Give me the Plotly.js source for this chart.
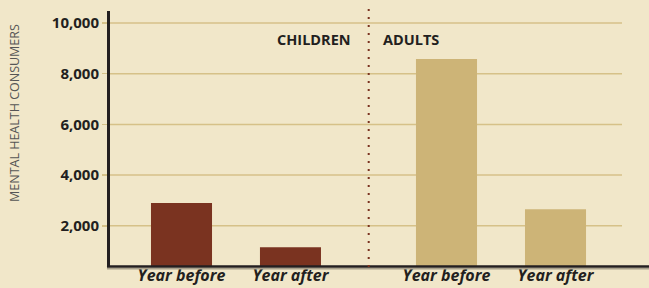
<!DOCTYPE html>
<html>
<head>
<meta charset="utf-8">
<script src="https://cdn.plot.ly/plotly-3.0.1.min.js"></script>
<style>html,body{margin:0;padding:0;background:#f1e7c9;}</style>
</head>
<body>
<div id="chart" style="width:649px;height:288px;"></div>
<script>
var periods = ["Year before", "Year after"];
var childrenValues = [2900, 1150];
var adultsValues = [8580, 2650];
var groupLabels = ["CHILDREN", "ADULTS"];
var yTickVals = [2000, 4000, 6000, 8000, 10000];
var yTickText = ["2,000", "4,000", "6,000", "8,000", "10,000"];
var yTitle = "MENTAL HEALTH CONSUMERS";

var bg = "#f1e7c9";
var ink = "#231f20";
var grid = "#d6c188";

var traces = [
  {type: "bar", x: periods, y: childrenValues, xaxis: "x", yaxis: "y",
   marker: {color: "#7a3320"}, hoverinfo: "none", showlegend: false},
  {type: "bar", x: periods, y: adultsValues, xaxis: "x2", yaxis: "y",
   marker: {color: "#cdb477"}, hoverinfo: "none", showlegend: false}
];

var xCommon = {
  type: "category", showgrid: false, zeroline: false, showline: false, ticks: "",
  ticklabelstandoff: -3,
  tickfont: {family: "Open Sans, sans-serif", size: 16, color: ink, weight: "bold", style: "italic"},
  fixedrange: true
};

var shapes = yTickVals.map(function (v) {
  return {type: "line", xref: "paper", yref: "y", x0: 0, x1: 1, y0: v, y1: v,
          layer: "below", line: {color: grid, width: 1.5}};
});
shapes.push(
  {type: "line", xref: "paper", yref: "paper", x0: -0.002, x1: 1.06, y0: -0.007, y1: -0.007,
   line: {color: "#a8a08a", width: 1.5}},
  {type: "line", xref: "paper", yref: "paper", x0: -0.002, x1: 1.06, y0: 0.002, y1: 0.002,
   line: {color: ink, width: 2.5}},
  {type: "line", xref: "paper", yref: "paper", x0: 0.5072, x1: 0.5072, y0: 0, y1: 1.02,
   line: {color: "#7a3320", width: 2, dash: "2px,6px"}}
);

var layout = {
  width: 649, height: 288,
  margin: {l: 108, r: 27, t: 11, b: 21, pad: 0},
  paper_bgcolor: bg, plot_bgcolor: bg,
  bargap: 0.44,
  showlegend: false,
  xaxis: Object.assign({}, xCommon, {domain: [0.037, 0.461], anchor: "y"}),
  xaxis2: Object.assign({}, xCommon, {domain: [0.5525, 0.9767], anchor: "y"}),
  yaxis: {
    anchor: "free", position: 0,
    range: [374, 10473], tickvals: yTickVals, ticktext: yTickText,
    showgrid: false,
    zeroline: false, showline: true, linecolor: ink, linewidth: 2.5,
    ticks: "outside", ticklen: 5, tickcolor: grid, tickwidth: 1.5,
    tickfont: {family: "Open Sans, sans-serif", size: 15, color: ink, weight: "bold"},
    fixedrange: true
  },
  shapes: shapes,
  annotations: [
    {text: groupLabels[0], xref: "paper", yref: "paper", x: 0.4767, y: 0.887,
     xanchor: "right", yanchor: "middle", showarrow: false,
     font: {family: "Open Sans, sans-serif", size: 14.5, color: ink, weight: "bold"}},
    {text: groupLabels[1], xref: "paper", yref: "paper", x: 0.5311, y: 0.887,
     xanchor: "left", yanchor: "middle", showarrow: false,
     font: {family: "Open Sans, sans-serif", size: 14.5, color: ink, weight: "bold"}},
    {text: yTitle, xref: "paper", yref: "paper", x: -0.181, y: 0.6016,
     xanchor: "center", yanchor: "middle", textangle: -90, showarrow: false,
     font: {family: "Open Sans, sans-serif", size: 12.5, color: "#555555"}}
  ]
};

Plotly.newPlot("chart", traces, layout, {displayModeBar: false, staticPlot: true});
</script>
</body>
</html>
